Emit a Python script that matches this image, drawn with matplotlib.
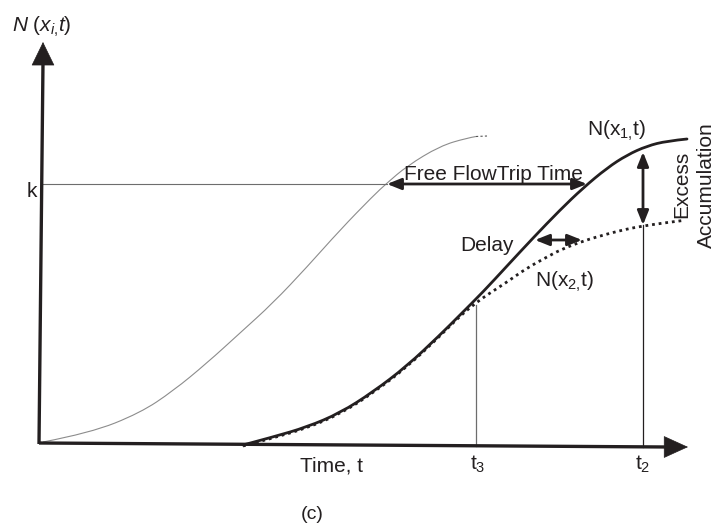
import matplotlib
matplotlib.use("Agg")
import matplotlib.pyplot as plt
from matplotlib.patches import FancyArrowPatch, PathPatch
from matplotlib.path import Path

plt.rcParams['font.family'] = ['Liberation Sans', 'DejaVu Sans']
plt.rcParams['mathtext.fontset'] = 'custom'
plt.rcParams['mathtext.rm'] = 'Liberation Sans'
plt.rcParams['mathtext.it'] = 'Liberation Sans:italic'
plt.rcParams['mathtext.bf'] = 'Liberation Sans:bold'

INK = '#231f20'

# ---- data (diagram coordinates: time right, count down-page) ----
upstream_t = [43, 90, 140, 173, 207, 240, 273, 307, 340, 373, 387, 407, 440, 467, 476]
upstream_N = [442, 433, 413, 391, 363, 333, 303, 267, 230, 196, 183, 166, 146, 138, 136.5]
upstream_tail_t = [476, 487]
upstream_tail_N = [136.5, 136]

n1_t = [243, 273, 307, 340, 373, 407, 440, 460, 483, 507, 533, 560, 583, 607, 627, 647, 667, 687]
n1_N = [445, 437, 427, 413, 392, 366, 335, 315, 292, 266, 238, 210, 188, 168, 155, 146, 141, 139]

n2_t = [243, 273, 307, 340, 373, 407, 440, 460, 477, 490, 507, 527, 547, 560, 583, 607, 627, 643, 667, 683]
n2_N = [446, 438, 428, 414, 393, 367, 336, 316, 302, 293, 282, 268, 257, 250, 241, 234, 229, 226, 222.5, 220.5]

k_level = 184
t3 = 476
t3_N = 305
t2 = 643
t2_N = 225
t2_N1 = 152
freeflow_start, freeflow_end = 387, 587
delay_start, delay_end, delay_N = 535, 582, 240
origin = (39, 443)
xaxis_end = (688, 447)
yaxis_end = (43, 42)

fig = plt.figure(figsize=(7.21, 5.29), dpi=100)
ax = fig.add_axes([0, 0, 1, 1])
ax.set_xlim(0, 721)
ax.set_ylim(529, 0)
ax.axis('off')


def smooth(ts, ns, **kw):
    """Quadratic B-spline path with the read points as control points."""
    pts = list(zip(ts, ns))
    verts = [pts[0]]
    codes = [Path.MOVETO]
    for i in range(1, len(pts) - 1):
        mid = ((pts[i][0] + pts[i + 1][0]) / 2, (pts[i][1] + pts[i + 1][1]) / 2)
        if i == len(pts) - 2:
            mid = pts[-1]
        verts += [pts[i], mid]
        codes += [Path.CURVE3, Path.CURVE3]
    ax.add_patch(PathPatch(Path(verts, codes), fill=False, **kw))


# curves
smooth(upstream_t, upstream_N, edgecolor='#8c8c8c', lw=0.8)
ax.plot(upstream_tail_t, upstream_tail_N, color='#555555', lw=0.8, ls=(0, (2, 2)))
smooth(n2_t, n2_N, edgecolor=INK, lw=2.0, ls=(0, (1, 1.4)))
smooth(n1_t, n1_N, edgecolor=INK, lw=2.0, capstyle='round')

# reference lines
ax.plot([43, freeflow_start], [k_level, k_level], color='#6d6d6d', lw=0.8)
ax.plot([t3, t3], [t3_N, 446], color='#6d6d6d', lw=0.9)
ax.plot([t2, t2], [t2_N, 447], color=INK, lw=0.9)

# axes with arrowheads
ax.plot([origin[0], xaxis_end[0] - 20], [origin[1], xaxis_end[1]], color=INK, lw=2.4, solid_capstyle='butt')
ax.plot([origin[0], yaxis_end[0]], [origin[1] + 1, yaxis_end[1] + 20], color=INK, lw=2.4, solid_capstyle='butt')
ax.add_patch(FancyArrowPatch((xaxis_end[0] - 26, xaxis_end[1]), xaxis_end,
                             arrowstyle='-|>,head_length=1.65,head_width=0.75',
                             mutation_scale=10, color=INK, lw=0.5, shrinkA=0, shrinkB=0))
ax.add_patch(FancyArrowPatch((yaxis_end[0], yaxis_end[1] + 26), yaxis_end,
                             arrowstyle='-|>,head_length=1.6,head_width=0.78',
                             mutation_scale=10, color=INK, lw=0.5, shrinkA=0, shrinkB=0))


def dbl(p0, p1):
    ax.add_patch(FancyArrowPatch(p0, p1, arrowstyle='<|-|>,head_length=0.85,head_width=0.34',
                                 mutation_scale=10, color=INK, lw=2.0, shrinkA=0, shrinkB=0))


dbl((freeflow_start, k_level), (freeflow_end, k_level))
dbl((delay_start, delay_N), (delay_end, delay_N))
dbl((t2, t2_N1), (t2, t2_N))

fs = 15
ax.text(12, 32, r"$\mathit{N\ (x_{i{,}}t)}$", fontsize=fs, color=INK, ha='left', va='baseline')
ax.text(32, 197, "k", fontsize=fs, color=INK, ha='center', va='baseline')
ax.text(493, 180, "Free FlowTrip Time", fontsize=fs, color=INK, ha='center', va='baseline')
ax.text(487, 251, "Delay", fontsize=fs, color=INK, ha='center', va='baseline')
ax.text(535, 287, r"$\mathrm{N(x_{2{,}}t)}$", fontsize=fs, color=INK, ha='left', va='baseline')
ax.text(587, 136, r"$\mathrm{N(x_{1{,}}t)}$", fontsize=fs, color=INK, ha='left', va='baseline')
ax.text(682, 184, "Excess", fontsize=fs, color=INK, ha='center', va='center', rotation=90)
ax.text(706, 185, "Accumulation", fontsize=fs, color=INK, ha='center', va='center', rotation=90)
ax.text(331, 471, "Time, t", fontsize=fs, color=INK, ha='center', va='baseline')
ax.text(470, 470, r"$\mathrm{t_3}$", fontsize=fs, color=INK, ha='left', va='baseline')
ax.text(635, 470, r"$\mathrm{t_2}$", fontsize=fs, color=INK, ha='left', va='baseline')
ax.text(312, 519, "(c)", fontsize=14, color=INK, ha='center', va='baseline')

fig.savefig("out.png", dpi=100)
